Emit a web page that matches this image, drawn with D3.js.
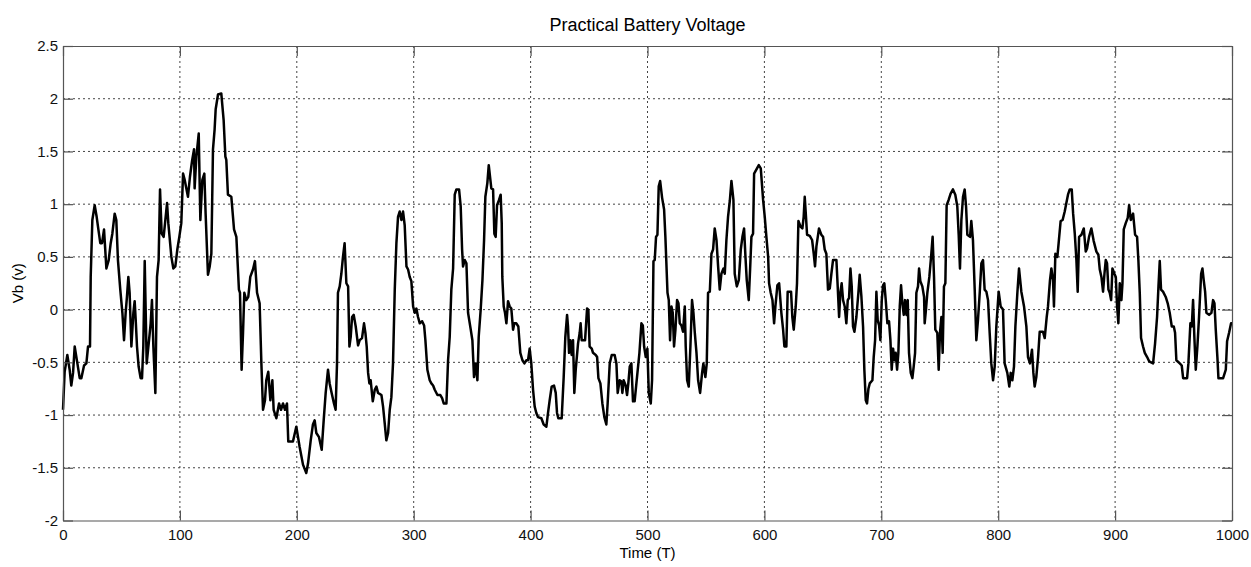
<!DOCTYPE html>
<html lang="en">
<head>
  <meta charset="UTF-8">
  <title>Practical Battery Voltage</title>
  <script src="https://d3js.org/d3.v7.min.js"></script>
  <style>
    body {
      margin: 0;
      background: white;
    }
    svg {
      display: block;
      font-family: Arial, "Liberation Sans", sans-serif;
    }
    .grid line {
      stroke: #444;
      stroke-width: 1;
      stroke-dasharray: 2,3;
    }
    .axis path, .axis line {
      stroke: #555;
      stroke-width: 1.2;
    }
    .axis text {
      font-size: 15px;
      fill: #111;
    }
    .trace {
      fill: none;
      stroke: #000;
      stroke-width: 2.5;
      stroke-linejoin: round;
    }
  </style>
</head>
<body>
  <svg id="chart"></svg>
  <script>
    // values
    const time = [
      0,1.4,3.7,5.7,7.1,8.6,10,12.3,14.3,15.7,18,20,21.4,23.1,23.7,25.1,27.1,28.8,29.9,31.9,33.4,35.1,37.1,39.1,40.8,42.2,44.2,45.6,47,49,
      50.8,52.2,53.6,54.7,55.9,57,58.5,60.2,61.3,62.2,63.3,64.7,66.4,67.6,68.7,69.9,71.6,73.6,75,76.1,77.3,79,80.4,81.8,83,84.4,86.1,89,90.1,92.7,
      94.4,96.1,97.8,99.5,101.2,102.7,104.1,106.9,108.6,110.4,112.1,112.6,114.1,116.1,
      117.5,119.2,120.9,122,124,125.5,126.9,128.3,129.7,130.6,132.6,135.4,137.4,138.9,139.7,141.1,144,146.3,148.3,150.5,151.4,152.8,154,155.1,156.8,158.5,160.2,162.5,164.2,166,
      168.2,169.7,171.1,172.8,173.9,175.6,177.4,179.1,180.2,182.5,184.8,186.5,188.2,189.9,191.6,192.7,196.7,199.6,202.4,205.3,208.1,209.6,211.9,213.8,215.3,216.7,219,221.3,223,224.7,
      226.7,228.1,229.8,231.8,233.2,234.4,235.2,236.7,238.1,239.5,240.9,
      242.4,243.9,245,246.1,247.3,248.7,250.4,252.4,253.8,255.8,257.5,258.7,259.8,261,262.1,263.2,265,266.7,268.1,269.5,272.4,273.8,275.2,276.6,278.1,279.5,280.9,282.3,283.8,285.2,
      286.6,288,289.5,290.9,292.3,293.8,295.2,296.6,298,299.5,300.9,302.3,303.7,305.2,307.2,308.9,310,311.7,313.7,315.1,316.6,318,320.3,322.8,324.3,325.7,328,329.4,330.8,332.2,
      333.7,335.1,336.5,338.8,340.2,341.4,342.2,343.7,345.1,346.5,348.8,350.2,351.6,353.1,354.5,355.6,357.3,358.8,360.2,361.3,363,364.2,
      366.4,367.9,369,370.1,371.3,373,374.4,375.3,375.8,377,378.1,379.3,380.7,382.1,383.5,385,386.1,387.8,389.5,391.2,393,394.7,396.4,397.8,399.2,400.6,402.1,403.5,404.9,406.3,
      409.2,411.2,413.5,414.9,416.3,418,420,421.5,422.6,423.7,426.6,428.3,429.7,431.2,432,432.9,434,435.1,436.3,437.4,438.6,440.6,442,442.8,443.7,445.4,446.6,448.3,449.4,450.5,
      452.3,453.4,455.7,456.9,458,459.7,461.4,463.1,464.8,465.9,467.7,469.4,471.9,473.4,474.5,476.2,477.6,478.5,479.6,481.3,482.5,483.6,484.8,486.2,487.6,489,490.5,
      493.1,494.8,496,497.1,498.5,499.9,501.1,502.8,503.9,505.1,506.2,507.3,508.5,509.6,510.8,512.5,514.2,515.3,517.1,518.2,519.3,520.5,521.6,522.7,523.9,525.3,526.5,527.6,529,530.4,
      531.9,532.7,533.9,535.3,536.7,538.1,539.3,540.4,541.9,543.3,545,546.7,547.8,549.5,550.7,551.8,553.3,554.7,556.1,557.5,559,560.4,561.8,563.2,565,566.1,567.5,568.9,570.4,571.8,
      573.5,574.6,576.4,578.1,579.8,581.2,582.6,583.8,584.9,586.6,587.8,588.9,590.3,591.2,593.2,595.2,596.9,598.9,600.3,601.7,603.2,604,605.4,606.9,608.3,609.4,611.1,612.6,
      614.5,616,617.1,618.8,619.9,622.8,623.9,625.1,626.8,627.9,629.1,630.8,632.5,633.6,634.5,635.3,636.5,638.8,640.8,642.2,643.3,644.5,646.7,648.7,650.2,651.6,653,654.4,655.9,657.3,
      658.7,661.6,662.7,663.9,665,666.1,667.3,668.7,670.1,671.3,672.4,673.6,674.7,675.8,677,678.7,680.4,681.5,683,684.4,685.5,686.7,687.8,689,690.1,692.4,693.5,694.7,695.8,696.9,
      698.1,699.2,700.4,701.5,702.6,703.8,705.2,706.6,707.8,708.9,710.1,711.2,712.3,713.5,714.6,715.8,716.9,718,719.2,720.3,721.5,722.6,723.7,725.2,726.6,727.7,728.9,730,731.4,732.3,
      733.4,735.1,736.6,
      737.1,738.2,739.4,741.1,742.8,743.9,745.1,746.2,747.9,749.1,750.2,751.4,752.5,753.6,754.8,755.9,757.6,759.3,761.3,763.3,765,766.2,767.3,768.5,769.9,771.3,772.5,773.6,775.9,777,
      778.4,779.9,781.3,782.7,784.2,785.6,787,788.4,789.9,791.3,792.7,794.1,795.6,797,798.4,800.4,802.1,804.1,805.5,807.8,809.5,810.7,812.1,813.5,814.7,816.4,817.8,819.8,822.1,824.1,
      825.5,827.2,828.9,830.1,831.2,832.6,834.1,835.5,838.3,839.8,841.5,842.6,844.3,845.5,846.9,847.7,848.9,850.6,851.7,853.4,855.1,856.9,858.3,859.7,
      861.2,862.9,864.1,865.5,866.9,868,869.2,871.2,873.2,874.9,876,877.7,879.7,881.7,884,885.7,886.9,888.3,889.7,890.9,892,893.1,894.3,895.4,896.6,897.7,899.4,900.6,901.7,902.8,
      904,905.4,906.3,907.4,909.1,910.8,912,913.4,915.4,917.1,918.8,919.9,921.1,922.2,923.9,925.4,927.4,929.1,932.5,934.2,935.9,937.1,938.2,939.3,941,943.3,945,946.7,948.5,950.2,
      951.3,952.4,955.3,957,958.2,961.6,962.7,964.4,965.6,966.7,967.8,969,970.4,971.8,973.6,974.7,975.8,977,978.1,980.4,982.4,983.8,985,986.1,987.5,988.4,992.4,994.7,995.8,997.5,
      999.2,1000
    ];

    const voltage = [
      -0.95,-0.59,-0.43,-0.57,-0.72,-0.6,-0.35,-0.51,-0.65,-0.65,-0.53,-0.51,-0.35,-0.35,0.31,0.85,0.99,0.88,0.79,0.63,0.63,0.76,0.39,0.47,0.63,0.72,0.91,0.85,0.47,0.19,
      -0.03,-0.29,-0.03,0.12,0.31,0.16,-0.35,-0.03,0.08,-0.1,-0.35,-0.54,-0.65,-0.65,-0.35,0.46,-0.51,-0.29,-0.13,0.09,-0.35,-0.79,0.31,0.47,1.14,0.72,0.69,1.01,0.82,0.5,
      0.39,0.41,0.57,0.69,0.82,1.29,1.23,1.07,1.26,1.41,1.52,1.15,1.45,1.67,
      0.85,1.23,1.29,0.91,0.33,0.41,0.53,1.52,1.71,1.9,2.04,2.05,1.8,1.45,1.42,1.09,1.07,0.76,0.69,0.19,0.16,-0.57,-0.22,0.16,0.09,0.12,0.31,0.38,0.46,0.16,
      0.06,-0.51,-0.95,-0.86,-0.67,-0.59,-0.86,-0.67,-0.95,-1.03,-0.89,-0.95,-0.89,-0.95,-0.89,-1.25,-1.25,-1.11,-1.3,-1.47,-1.55,-1.46,-1.24,-1.09,-1.05,-1.17,-1.21,-1.33,-1.05,-0.79,
      -0.57,-0.7,-0.79,-0.89,-0.95,-0.51,0.16,0.22,0.34,0.5,0.63,
      0.25,0.22,-0.35,-0.26,-0.07,-0.05,-0.16,-0.34,-0.29,-0.27,-0.13,-0.22,-0.35,-0.6,-0.7,-0.67,-0.87,-0.76,-0.73,-0.79,-0.81,-0.92,-1.08,-1.24,-1.17,-0.95,-0.83,-0.51,0.19,0.63,
      0.88,0.93,0.85,0.93,0.8,0.41,0.38,0.31,0.27,0.03,-0.03,0.01,-0.07,-0.13,-0.11,-0.15,-0.29,-0.57,-0.67,-0.7,-0.72,-0.76,-0.81,-0.81,-0.84,-0.89,-0.89,-0.48,-0.26,0.19,
      0.39,1.09,1.14,1.14,0.98,0.57,0.41,0.47,0.44,-0.03,-0.19,-0.29,-0.64,-0.51,-0.67,-0.26,0,0.28,0.66,1.07,1.2,1.37,
      1.15,1.14,0.72,0.69,0.99,1.04,1.09,0.82,0.31,0.03,-0.03,-0.13,0.08,0.03,0.01,-0.19,-0.13,-0.13,-0.16,-0.41,-0.48,-0.51,-0.48,-0.48,-0.37,-0.51,-0.76,-0.92,-0.98,-1.02,
      -1.03,-1.09,-1.11,-0.98,-0.86,-0.73,-0.72,-0.79,-0.98,-1.03,-1.03,-0.64,-0.26,-0.05,-0.16,-0.41,-0.29,-0.43,-0.29,-0.79,-0.57,-0.32,-0.22,-0.13,-0.29,-0.29,-0.29,0.01,0,-0.35,
      -0.37,-0.41,-0.43,-0.45,-0.65,-0.7,-0.89,-1.02,-1.09,-0.89,-0.51,-0.43,-0.43,-0.51,-0.79,-0.67,-0.68,-0.79,-0.67,-0.72,-0.81,-0.7,-0.54,-0.51,-0.87,-0.87,-0.7,
      -0.41,-0.13,-0.15,-0.35,-0.45,-0.37,-0.79,-0.89,-0.67,0.46,0.47,0.69,0.71,1.17,1.22,1.06,0.95,0.69,0.16,0.09,-0.29,0.03,-0.03,-0.35,-0.19,0.09,0.06,-0.13,-0.15,-0.21,
      0.03,-0.35,-0.67,-0.73,-0.35,0.09,-0.03,-0.21,-0.41,-0.67,-0.79,-0.6,-0.51,-0.64,-0.51,0.16,0.17,0.53,0.57,0.77,0.66,0.41,0.19,0.34,0.39,0.34,0.66,0.88,1.03,1.22,
      1.04,0.34,0.22,0.28,0.57,0.69,0.77,0.5,0.28,0.09,0.39,0.69,0.72,1.29,1.33,1.37,1.34,1.04,0.88,0.69,0.5,0.25,0.16,0.09,-0.13,0.03,0.23,0.25,
      -0.03,-0.19,-0.35,-0.35,0.17,0.17,-0.07,-0.19,0.03,0.25,0.84,0.79,0.77,0.88,1.07,0.93,0.71,0.7,0.66,0.53,0.41,0.6,0.77,0.71,0.69,0.57,0.53,0.19,0.2,0.34,
      0.47,0.47,0.22,-0.07,0.16,0.25,0.09,0.03,-0.13,0.09,0.11,0.39,0.22,-0.16,-0.21,-0.07,0.16,0.33,0.12,-0.16,-0.57,-0.86,-0.89,-0.75,-0.7,-0.67,-0.45,-0.29,0.17,-0.1,
      -0.15,-0.29,0.09,0.23,0.25,0.09,-0.13,-0.11,-0.29,-0.57,-0.37,-0.48,-0.41,-0.57,-0.41,0.03,0.23,0.06,-0.05,0.09,-0.05,0.09,-0.41,-0.6,-0.65,-0.54,-0.41,0.16,0.22,0.39,
      0.27,0.22,0.12,
      -0.13,0,0.16,0.31,0.53,0.69,0.31,-0.19,-0.22,-0.57,-0.22,-0.07,-0.41,0.22,0.25,0.99,1.04,1.1,1.14,1.09,0.98,0.71,0.39,0.85,1.07,1.14,0.98,0.71,0.69,0.84,
      0.66,0.19,-0.29,-0.1,0.16,0.44,0.47,0.19,0.17,0.09,-0.22,-0.51,-0.67,-0.54,-0.16,0.17,0.03,0,-0.51,-0.6,-0.73,-0.6,-0.67,-0.54,-0.16,0.16,0.39,0.17,0.03,-0.16,
      -0.45,-0.51,-0.38,-0.6,-0.73,-0.64,-0.45,-0.21,-0.21,-0.27,-0.07,0.03,0.28,0.39,0.28,0.03,0.53,0.5,0.63,0.84,0.85,0.93,1.01,1.09,
      1.14,1.14,0.91,0.72,0.47,0.17,0.69,0.71,0.77,0.55,0.58,0.69,0.77,0.65,0.55,0.52,0.38,0.31,0.17,0.34,0.47,0.44,0.19,0.16,0.09,0.39,0.34,0.31,0.03,-0.13,
      0.25,0.09,0.25,0.76,0.82,0.87,0.99,0.85,0.91,0.71,0.69,0.47,0.16,-0.27,-0.35,-0.41,-0.45,-0.49,-0.51,-0.32,-0.07,0.22,0.46,0.19,0.17,0.12,0.06,-0.03,-0.16,-0.16,
      -0.22,-0.48,-0.51,-0.53,-0.65,-0.65,-0.51,-0.13,-0.16,0.09,-0.26,-0.57,-0.35,-0.07,0.34,0.39,0.28,0.17,-0.03,-0.05,-0.03,0.09,0.06,-0.19,-0.45,-0.65,-0.65,-0.57,-0.3,-0.22,
      -0.13,-0.13
    ];

    const xTicks = [0, 100, 200, 300, 400, 500, 600, 700, 800, 900, 1000];
    const yTicks = [-2, -1.5, -1, -0.5, 0, 0.5, 1, 1.5, 2, 2.5];

    const width = 1251;
    const height = 567;
    const margin = { top: 46, right: 19, bottom: 46.5, left: 63 };
    const plotW = width - margin.left - margin.right;
    const plotH = height - margin.top - margin.bottom;
    const tickLen = 10;

    const svg = d3.select("#chart")
      .attr("width", width)
      .attr("height", height);

    const g = svg.append("g")
      .attr("transform", `translate(${margin.left},${margin.top})`);

    const x = d3.scaleLinear().domain([0, 1000]).range([0, plotW]);
    const y = d3.scaleLinear().domain([-2, 2.5]).range([plotH, 0]);

    // dotted grid
    g.append("g").attr("class", "grid")
      .selectAll("line").data(xTicks.slice(1, -1)).join("line")
        .attr("x1", d => x(d)).attr("x2", d => x(d))
        .attr("y1", 0).attr("y2", plotH);
    g.append("g").attr("class", "grid")
      .selectAll("line").data(yTicks.slice(1, -1)).join("line")
        .attr("x1", 0).attr("x2", plotW)
        .attr("y1", d => y(d)).attr("y2", d => y(d));

    // the trace
    const line = d3.line()
      .x((d, i) => x(time[i]))
      .y(d => y(d));

    g.append("path")
      .datum(voltage)
      .attr("class", "trace")
      .attr("d", line);

    // axes, ticks pointing inward on all four sides
    const plain = d => String(d);
    g.append("g").attr("class", "axis")
      .attr("transform", `translate(0,${plotH})`)
      .call(d3.axisBottom(x).tickValues(xTicks).tickFormat(plain).tickSize(-tickLen).tickPadding(9).tickSizeOuter(0));
    g.append("g").attr("class", "axis")
      .call(d3.axisTop(x).tickValues(xTicks).tickSize(-tickLen).tickFormat("").tickSizeOuter(0));
    g.append("g").attr("class", "axis")
      .call(d3.axisLeft(y).tickValues(yTicks).tickFormat(plain).tickSize(-tickLen).tickPadding(5).tickSizeOuter(0));
    g.append("g").attr("class", "axis")
      .attr("transform", `translate(${plotW},0)`)
      .call(d3.axisRight(y).tickValues(yTicks).tickSize(-tickLen).tickFormat("").tickSizeOuter(0));

    g.selectAll(".axis .domain").attr("stroke", "#666");

    // titles
    svg.append("text")
      .attr("x", margin.left + plotW / 2)
      .attr("y", 31)
      .attr("text-anchor", "middle")
      .style("font-size", "18px")
      .text("Practical Battery Voltage");

    svg.append("text")
      .attr("x", margin.left + plotW / 2)
      .attr("y", 558)
      .attr("text-anchor", "middle")
      .style("font-size", "15px")
      .text("Time (T)");

    svg.append("text")
      .attr("transform", `translate(23,${margin.top + plotH / 2}) rotate(-90)`)
      .attr("text-anchor", "middle")
      .style("font-size", "15px")
      .text("Vb (v)");
  </script>
</body>
</html>
